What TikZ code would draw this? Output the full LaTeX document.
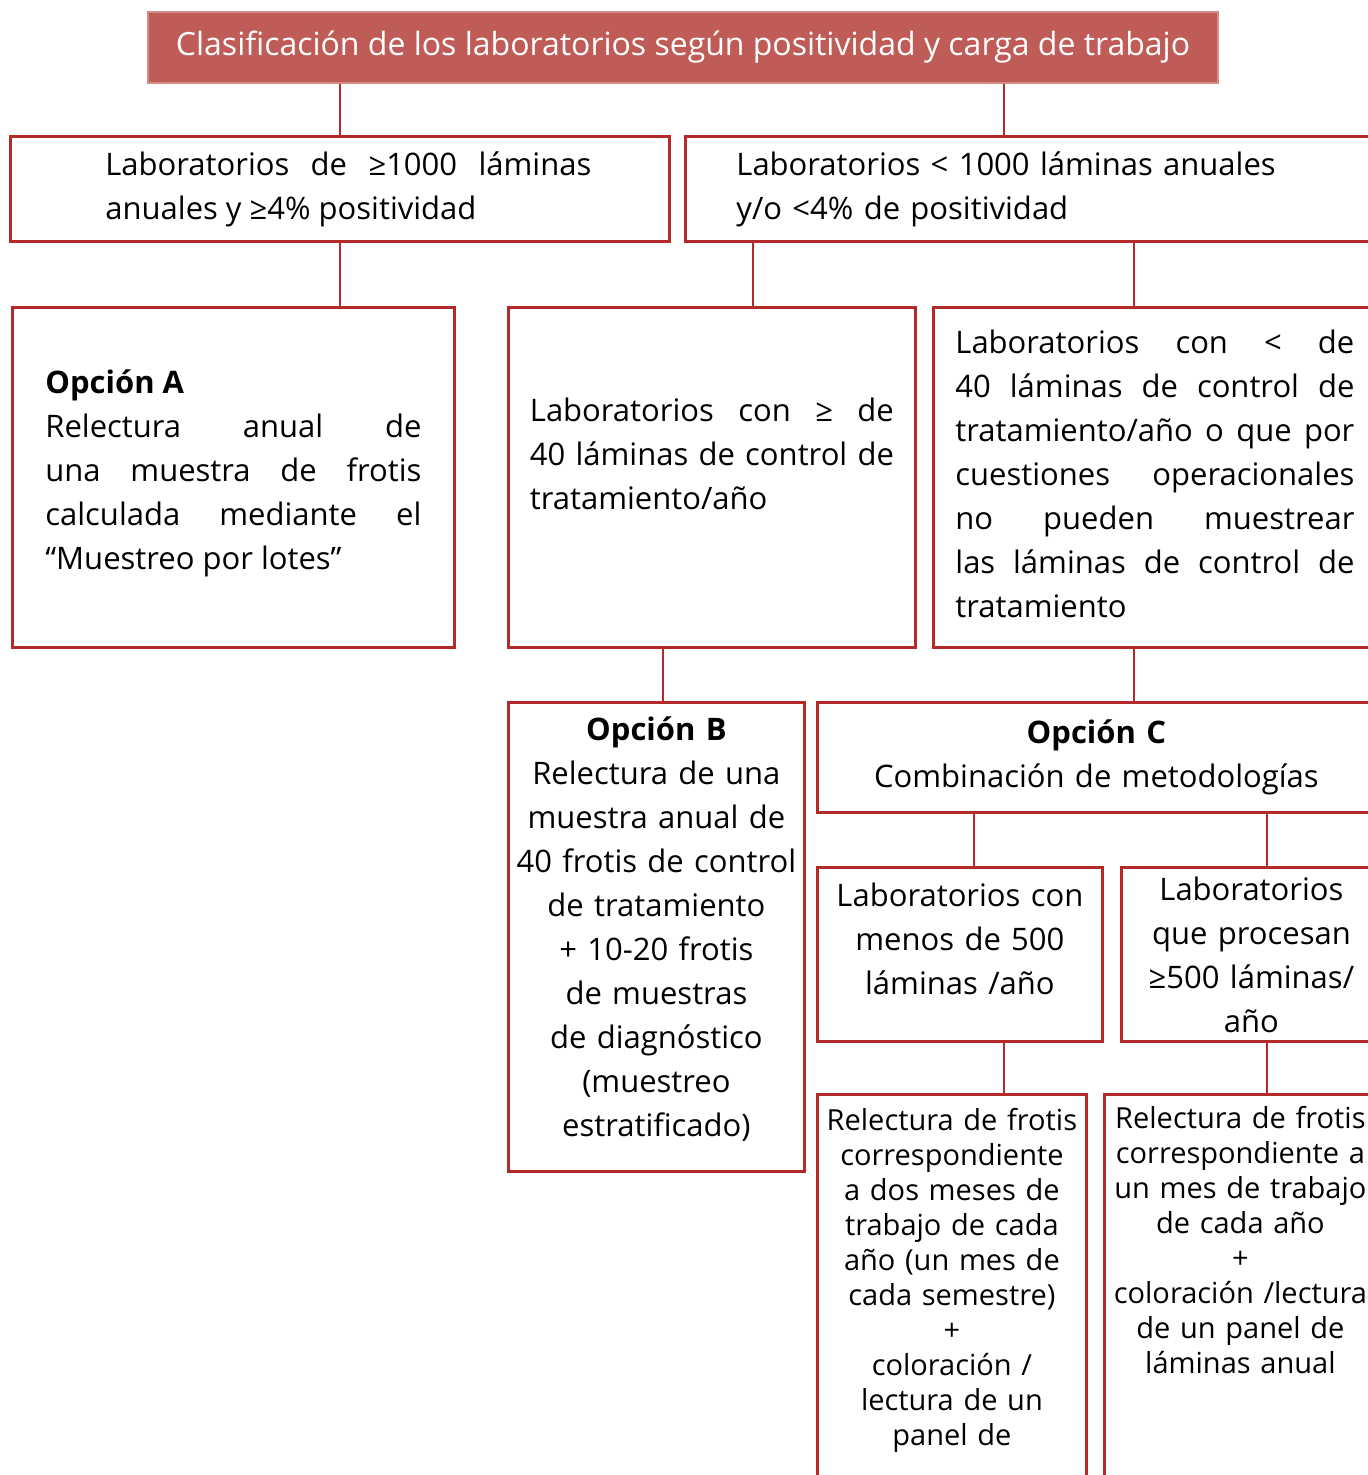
\documentclass[tikz,border=0pt]{standalone}
\usepackage{fontspec}
\setmainfont{Open Sans}
\usetikzlibrary{positioning}
\definecolor{boxred}{RGB}{180,42,40}
\definecolor{headred}{RGB}{192,92,88}
\definecolor{headline}{RGB}{214,140,136}
\tikzset{
  box/.style={
    draw=boxred,
    line width=1.4pt,
    rectangle,
    inner ysep=0pt,
    anchor=north west,
    font=\fontsize{15.5}{22}\selectfont
  },
  smallbox/.style={
    box,
    font=\fontsize{14.5}{17.5}\selectfont
  },
  link/.style={draw=boxred, line width=1.2pt}
}
\hyphenpenalty=10000
\exhyphenpenalty=10000
\tolerance=9999
\hbadness=10000
% blank space under the last line of a box
\newcommand{\padbelow}[1]{\par\nointerlineskip\hbox{\rule{0pt}{#1}}}

\begin{document}
\begin{tikzpicture}[x=0.5pt,y=-0.5pt]
  \useasboundingbox (0,0) rectangle (1367,1475);
  % title
  \node[draw=headline, fill=headred, line width=1pt, text=white,
    minimum width=535pt, minimum height=35.5pt, inner sep=0pt,
    font=\fontsize{16}{19}\selectfont] (hdr) at (683,47.5)
    {Clasificación de los laboratorios según positividad y carga de trabajo};
  % first level
  \node[box, text width=251.5pt, inner xsep=39pt, minimum height=52.5pt,
    align=justify] (labA) at (9,135)
    {\hspace*{8.5pt}Laboratorios de ≥1000 láminas\linebreak
     \hspace*{8.5pt}anuales y ≥4\% positividad};
  \node[box, text width=307pt, inner xsep=25.5pt, minimum height=52.5pt,
    align=left] (labB) at (684,135)
    {Laboratorios < 1000 láminas anuales\\y/o <4\% de positividad};
  % second level
  \node[box, text width=188pt, inner xsep=16.5pt, minimum height=170pt,
    align=justify] (optA) at (11,306)
    {\textbf{Opción A}\\Relectura anual de\linebreak una muestra de frotis\linebreak
     calculada mediante el\linebreak “Muestreo por lotes”\padbelow{4pt}};
  \node[box, text width=182pt, inner xsep=10.75pt, minimum height=170pt,
    align=justify] (labmid) at (507,306)
    {Laboratorios con ≥ de\linebreak 40 láminas de control de\linebreak
     tratamiento/año\padbelow{24pt}};
  \node[box, text width=199.5pt, inner xsep=11pt, minimum height=170pt,
    align=justify] (labright) at (932,306)
    {Laboratorios con < de\linebreak 40 láminas de control de\linebreak
     tratamiento/año o que por\linebreak cuestiones operacionales\linebreak
     no pueden muestrear\linebreak las láminas de control de\linebreak
     tratamiento\padbelow{4pt}};
  % options B and C
  \node[box, text width=145pt, inner xsep=1.5pt, minimum height=234.5pt,
    align=center] (optB) at (507,701)
    {\textbf{Opción B}\\Relectura de una\\muestra anual de\\40 frotis de control\\
     de tratamiento\\+ 10-20 frotis\\de muestras\\de diagnóstico\\(muestreo\\
     estratificado)\padbelow{8pt}};
  \node[box, text width=270pt, inner xsep=4.5pt, minimum height=55pt,
    align=center] (optC) at (816,701)
    {\textbf{Opción C}\\Combinación de metodologías};
  % option C branches
  \node[box, text width=136pt, inner xsep=3.25pt, minimum height=87pt,
    align=center] (lowlab) at (816,866)
    {Laboratorios con\\menos de 500\\láminas /año\padbelow{16pt}};
  \node[box, text width=124pt, inner xsep=3pt, minimum height=87pt,
    align=center] (highlab) at (1120,866)
    {Laboratorios\\que procesan\\≥500 láminas/\\año};
  \node[smallbox, text width=130pt, inner xsep=2.25pt, inner ysep=7pt,
    align=center] (lowread) at (816,1093)
    {Relectura de frotis\\correspondiente\\a dos meses de\\trabajo de cada\\
     año (un mes de\\cada semestre)\\+\\coloración /\\lectura de un\\panel de
     \padbelow{30pt}};
  \node[smallbox, text width=132pt, inner xsep=2pt, inner ysep=6pt,
    align=center] (highread) at (1103,1093)
    {Relectura de frotis\\correspondiente a\\un mes de trabajo\\de cada año\\+\\
     coloración /lectura\\de un panel de\\láminas anual\padbelow{70pt}};
  % connectors
  \coordinate (c1) at (1004,0);
  \coordinate (c2) at (753,0);
  \coordinate (c3) at (1134,0);
  \coordinate (c4) at (663,0);
  \coordinate (c5) at (974,0);
  \coordinate (c6) at (1267,0);
  \draw[link] (hdr.south -| labA.north) -- (labA.north);
  \draw[link] (hdr.south -| c1) -- (labB.north -| c1);
  \draw[link] (labA.south) -- (labA.south |- optA.north);
  \draw[link] (labB.south -| c2) -- (labmid.north -| c2);
  \draw[link] (labB.south -| c3) -- (labright.north -| c3);
  \draw[link] (labmid.south -| c4) -- (optB.north -| c4);
  \draw[link] (labright.south -| c3) -- (optC.north -| c3);
  \draw[link] (optC.south -| c5) -- (lowlab.north -| c5);
  \draw[link] (optC.south -| c6) -- (highlab.north -| c6);
  \draw[link] (lowlab.south -| c1) -- (lowread.north -| c1);
  \draw[link] (highlab.south -| c6) -- (highread.north -| c6);
\end{tikzpicture}
\end{document}
